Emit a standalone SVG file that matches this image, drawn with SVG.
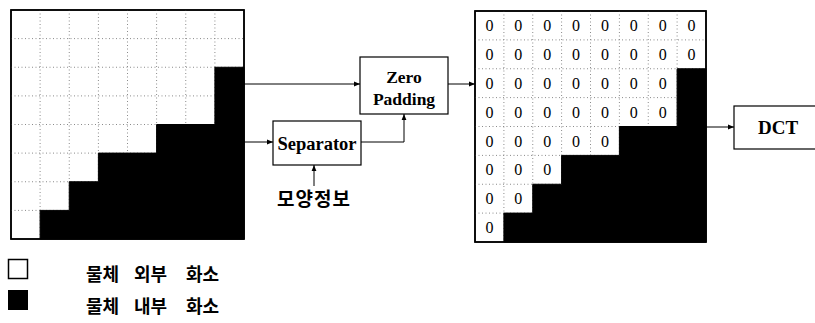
<svg xmlns="http://www.w3.org/2000/svg" width="815" height="323" viewBox="0 0 815 323">
  <style>
    .frame { fill: #fff; stroke: #000; stroke-width: 1.5; }
    .solid { fill: #000; stroke: #000; stroke-width: 1; }
    .dots { stroke: #8a8a8a; stroke-width: 1; stroke-dasharray: 1 2.5; fill: none; }
    .box { fill: #fff; stroke: #000; stroke-width: 1.2; }
    .lbl { font-family: "Liberation Serif", "Times New Roman", serif; font-weight: bold; fill: #000; text-anchor: middle; }
    .zero { font-family: "Liberation Serif", "Times New Roman", serif; font-size: 16px; fill: #000; text-anchor: middle; }
    .kr { font-family: "Noto Sans CJK KR", sans-serif; font-weight: bold; fill: #000; }
    .wire { fill: none; stroke: #000; stroke-width: 1; }
  </style>
  <defs>
    <marker id="head" viewBox="0 0 10 10" refX="10" refY="5" markerWidth="6" markerHeight="6" markerUnits="userSpaceOnUse" orient="auto">
      <path d="M0,1 L10,5 L0,9 Z" fill="#000"/>
    </marker>
  </defs>

  <!-- input block: 8x8 pixels, object region in black -->
  <g id="input-block">
    <rect class="frame" x="11" y="10" width="233" height="229"/>
    <path class="dots" d="M40.1,10V239 M69.25,10V239 M98.4,10V239 M127.5,10V239 M156.6,10V239 M185.75,10V239 M214.9,10V239
                          M11,38.6H244 M11,67.25H244 M11,95.9H244 M11,124.5H244 M11,153.1H244 M11,181.75H244 M11,210.4H244"/>
    <path class="solid" d="M214.9,67.25H244V239H40.1V210.4H69.25V181.75H98.4V153.1H156.6V124.5H214.9Z"/>
    <rect x="11" y="10" width="233" height="229" fill="none" stroke="#000" stroke-width="1.5"/>
  </g>

  <!-- processing blocks -->
  <g id="zero-padding">
    <rect class="box" x="360" y="57" width="88" height="57"/>
    <text class="lbl" x="404" y="83" font-size="17.5">Zero</text>
    <text class="lbl" x="404" y="105" font-size="17.5">Padding</text>
  </g>

  <g id="separator">
    <rect class="box" x="273" y="121" width="88" height="44"/>
    <text class="lbl" x="317" y="150" font-size="18.5">Separator</text>
  </g>

  <g id="shape-info">
    <text class="kr" x="314" y="206" font-size="19" text-anchor="middle" letter-spacing="1">모양정보</text>
  </g>

  <!-- padded block -->
  <g id="padded-block">
    <rect class="frame" x="475" y="11" width="231" height="231"/>
    <path class="dots" d="M503.9,11V242 M532.75,11V242 M561.6,11V242 M590.5,11V242 M619.4,11V242 M648.25,11V242 M677.1,11V242
                          M475,39.9H706 M475,68.75H706 M475,97.6H706 M475,126.5H706 M475,155.4H706 M475,184.25H706 M475,213.1H706"/>
    <path class="solid" d="M677.1,68.75H706V242H503.9V213.1H532.75V184.25H561.6V155.4H619.4V126.5H677.1Z"/>
    <rect x="475" y="11" width="231" height="231" fill="none" stroke="#000" stroke-width="1.5"/>
    <g class="zero">
      <text x="489.4" y="31">0</text><text x="518.3" y="31">0</text><text x="547.2" y="31">0</text><text x="576.1" y="31">0</text><text x="604.9" y="31">0</text><text x="633.8" y="31">0</text><text x="662.7" y="31">0</text><text x="691.6" y="31">0</text>
      <text x="489.4" y="59.9">0</text><text x="518.3" y="59.9">0</text><text x="547.2" y="59.9">0</text><text x="576.1" y="59.9">0</text><text x="604.9" y="59.9">0</text><text x="633.8" y="59.9">0</text><text x="662.7" y="59.9">0</text><text x="691.6" y="59.9">0</text>
      <text x="489.4" y="88.7">0</text><text x="518.3" y="88.7">0</text><text x="547.2" y="88.7">0</text><text x="576.1" y="88.7">0</text><text x="604.9" y="88.7">0</text><text x="633.8" y="88.7">0</text><text x="662.7" y="88.7">0</text>
      <text x="489.4" y="117.6">0</text><text x="518.3" y="117.6">0</text><text x="547.2" y="117.6">0</text><text x="576.1" y="117.6">0</text><text x="604.9" y="117.6">0</text><text x="633.8" y="117.6">0</text><text x="662.7" y="117.6">0</text>
      <text x="489.4" y="146.5">0</text><text x="518.3" y="146.5">0</text><text x="547.2" y="146.5">0</text><text x="576.1" y="146.5">0</text><text x="604.9" y="146.5">0</text>
      <text x="489.4" y="175.4">0</text><text x="518.3" y="175.4">0</text><text x="547.2" y="175.4">0</text>
      <text x="489.4" y="204.2">0</text><text x="518.3" y="204.2">0</text>
      <text x="489.4" y="233.1">0</text>
    </g>
  </g>

  <g id="dct">
    <rect class="box" x="734" y="106" width="90" height="43"/>
    <text class="lbl" x="778" y="134" font-size="19">DCT</text>
  </g>

  <!-- connectors -->
  <g id="connectors">
    <path class="wire" d="M244,84H360" marker-end="url(#head)"/>
    <path class="wire" d="M244,142H273" marker-end="url(#head)"/>
    <path class="wire" d="M361,142H404V114" marker-end="url(#head)"/>
    <path class="wire" d="M314,186V165" marker-end="url(#head)"/>
    <path class="wire" d="M448,84H475" marker-end="url(#head)"/>
    <path class="wire" d="M706,127H734" marker-end="url(#head)"/>
  </g>

  <!-- legend -->
  <g id="legend-outside">
    <rect x="8.5" y="259.5" width="19" height="19" fill="#fff" stroke="#000" stroke-width="1.5"/>
    <text class="kr" y="281" font-size="18"><tspan x="86">물체</tspan><tspan x="134">외부</tspan><tspan x="186">화소</tspan></text>
  </g>
  <g id="legend-inside">
    <rect x="8" y="290" width="20" height="20" fill="#000"/>
    <text class="kr" y="313" font-size="18"><tspan x="86">물체</tspan><tspan x="134">내부</tspan><tspan x="186">화소</tspan></text>
  </g>
</svg>
